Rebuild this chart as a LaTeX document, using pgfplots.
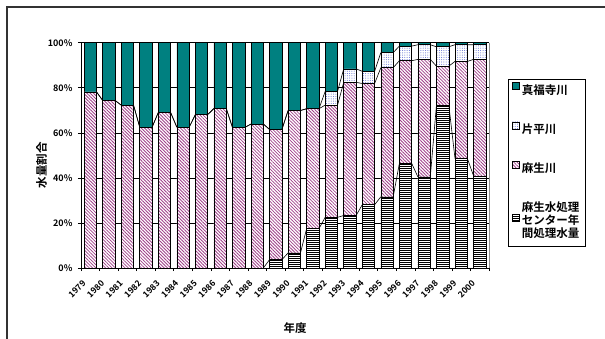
\documentclass[border=0pt]{standalone}
\usepackage{fontspec}
\setmainfont{Noto Sans CJK JP}[BoldFont={Noto Sans CJK JP Bold}]
\usepackage{pgfplots}
\usepackage{pgfplotstable}
\pgfplotsset{compat=1.18}
\usetikzlibrary{patterns.meta}

\definecolor{shinfuku}{HTML}{008080}
\definecolor{asohatch}{HTML}{A0408A}
\definecolor{katadots}{HTML}{5A68D0}

% Share of water volume per year (percent): treated water, Aso, Katahira, Shinfukuji
\pgfplotstableread{
year w a k s
1979 0 78.2 0 21.8
1980 0 74.4 0 25.6
1981 0 72.3 0 27.7
1982 0 62.5 0 37.5
1983 0 69.0 0 31.0
1984 0 62.5 0 37.5
1985 0 68.1 0 31.9
1986 0 70.8 0 29.2
1987 0 62.4 0 37.6
1988 0 63.9 0 36.1
1989 3.7 57.8 0 38.5
1990 6.7 63.2 0 30.1
1991 17.5 53.2 0 29.3
1992 22.5 49.8 6.1 21.6
1993 23.3 59.1 6.0 11.6
1994 28.1 53.8 5.4 12.7
1995 31.6 57.3 6.7 4.4
1996 46.4 45.6 6.5 1.5
1997 40.4 52.2 6.5 0.9
1998 72.3 17.3 8.6 1.8
1999 48.6 43.1 7.4 0.9
2000 40.9 51.7 6.5 0.9
}\ratios

\pgfplotsset{
  plotframe/.style={
    at={(81pt,70pt)}, anchor=south west,
    width=408pt, height=225.3pt, scale only axis,
    xmin=-0.5, xmax=21.5, ymin=0, ymax=100,
  },
  seriesline/.style={black, line width=0.6pt, no markers},
}

\begin{document}
\begin{tikzpicture}
\useasboundingbox (0,0) rectangle (605pt,338pt);
\draw[line width=1.4pt, black!80] (7pt,-5pt) -- (7pt,331pt) -- (610pt,331pt);

\begin{axis}[
  plotframe,
  ybar stacked, bar width=0.6667,
  axis x line*=bottom, axis y line*=left,
  axis line style={black, line width=0.8pt},
  xtick={0,...,21},
  xticklabels from table={\ratios}{year},
  every major x tick/.append style={draw=none},
  minor xtick={-0.5,0.5,...,21.5},
  minor tick length=3pt,
  ytick={0,20,40,60,80,100},
  yticklabels={0\%,20\%,40\%,60\%,80\%,100\%},
  major tick length=3pt,
  tick align=outside,
  tick style={black, line width=0.6pt},
  ymajorgrids=true,
  grid style={black, line width=0.6pt},
  xticklabel style={xshift=-6pt, yshift=-11pt, rotate=45, anchor=east, inner sep=0pt,
    font=\bfseries\fontsize{8.5}{9}\selectfont},
  yticklabel style={xshift=-2pt, font=\bfseries\fontsize{9}{10}\selectfont},
  legend cell align=left,
  reverse legend,
  legend image code/.code={\draw[#1, line width=0.6pt] (0pt,0.5pt) rectangle (7pt,7.5pt);},
  legend style={at={(1.0466,0.839)}, anchor=north west,
    draw=black, line width=0.6pt, fill=white,
    inner xsep=4pt, inner ysep=3pt, row sep=24pt,
    nodes={text depth=},
    font=\bfseries\fontsize{11.5}{13.5}\selectfont,
    /tikz/every even column/.append style={column sep=3pt}},
]
\addplot[draw=black, line width=0.6pt, fill=white,
  postaction={pattern={Lines[angle=0,distance=2pt,line width=0.9pt]}, pattern color=black}]
  table[x expr=\coordindex, y=w]{\ratios};
\addplot[draw=black, line width=0.6pt, fill=white,
  postaction={pattern={Lines[angle=-45,distance=2.3pt,line width=0.8pt]}, pattern color=asohatch}]
  table[x expr=\coordindex, y=a]{\ratios};
\addplot[draw=black, line width=0.6pt, fill=white,
  postaction={pattern={Dots[distance=2.3pt,radius=0.5pt]}, pattern color=katadots}]
  table[x expr=\coordindex, y=k]{\ratios};
\addplot[draw=black, line width=0.6pt, fill=shinfuku]
  table[x expr=\coordindex, y=s]{\ratios};
\legend{{\begin{tabular}[t]{@{}c@{}}麻生水処理\\[-1pt]センター年\\[-1pt]間処理水量\end{tabular}},麻生川,片平川,真福寺川}
\end{axis}

% series lines joining the stack boundaries of neighbouring bars
\begin{axis}[plotframe, hide axis]
\pgfplotsinvokeforeach{0,...,20}{
  \pgfmathtruncatemacro\nx{#1+1}
  \pgfplotstablegetelem{#1}{w}\of\ratios \let\wA\pgfplotsretval
  \pgfplotstablegetelem{#1}{a}\of\ratios \let\aA\pgfplotsretval
  \pgfplotstablegetelem{#1}{k}\of\ratios \let\kA\pgfplotsretval
  \pgfplotstablegetelem{\nx}{w}\of\ratios \let\wB\pgfplotsretval
  \pgfplotstablegetelem{\nx}{a}\of\ratios \let\aB\pgfplotsretval
  \pgfplotstablegetelem{\nx}{k}\of\ratios \let\kB\pgfplotsretval
  \pgfmathsetmacro\cAa{\wA}
  \pgfmathsetmacro\cAb{\wA+\aA}
  \pgfmathsetmacro\cAc{\wA+\aA+\kA}
  \pgfmathsetmacro\cBa{\wB}
  \pgfmathsetmacro\cBb{\wB+\aB}
  \pgfmathsetmacro\cBc{\wB+\aB+\kB}
  \pgfmathsetmacro\xa{#1+0.3333}
  \pgfmathsetmacro\xb{#1+0.6667}
  \edef\drawlines{%
    \noexpand\addplot[seriesline] coordinates {(\xa,\cAa) (\xb,\cBa)};
    \noexpand\addplot[seriesline] coordinates {(\xa,\cAb) (\xb,\cBb)};
    \noexpand\addplot[seriesline] coordinates {(\xa,\cAc) (\xb,\cBc)};
  }\drawlines
}
\end{axis}

% right edge of the plot area
\draw[black!45, line width=1pt] (489pt,70pt) -- (489pt,295.3pt);

% axis titles
\node[font=\bfseries\fontsize{11.5}{12}\selectfont, anchor=center] at (295pt,9.5pt) {年度};
\node[font=\bfseries\fontsize{11.5}{12}\selectfont, anchor=center, rotate=90] at (41.5pt,173pt) {水量割合};
\end{tikzpicture}
\end{document}
